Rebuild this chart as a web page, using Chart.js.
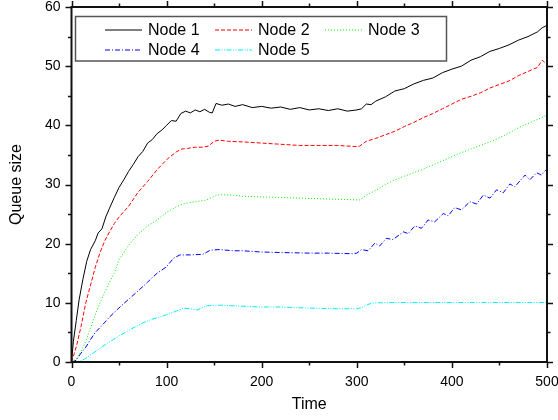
<!DOCTYPE html>
<html>
<head>
<meta charset="utf-8">
<script src="https://cdn.jsdelivr.net/npm/chart.js@4.4.2/dist/chart.umd.min.js"></script>
<style>
  html, body { margin: 0; padding: 0; background: #fff; }
  #wrap { width: 558px; height: 420px; }
</style>
</head>
<body>
<div id="wrap"><canvas id="chart" width="558" height="420"></canvas></div>
<script>
const labels = ['Node 1', 'Node 2', 'Node 3', 'Node 4', 'Node 5'];

const node1T = [0, 2, 5, 8, 12, 16, 20, 25, 28, 32, 36, 40, 45, 50, 55, 60, 65, 70, 75, 80, 85, 90, 95, 100, 105, 110, 115, 120, 125, 130, 135, 140, 145, 148, 152, 158, 165, 172, 180, 190, 200, 210, 220, 230, 240, 250, 260, 270, 280, 290, 300, 305, 310, 315, 320, 330, 340, 350, 360, 370, 380, 390, 400, 410, 420, 430, 440, 450, 460, 470, 480, 490, 495, 500];
const node1Q = [0, 3.5, 7, 10.5, 14, 17, 19, 20.5, 21.8, 22.5, 24.5, 26, 27.8, 29.5, 30.8, 32.2, 33.4, 34.7, 35.6, 37, 37.6, 38.6, 39.2, 40, 40.8, 40.7, 42, 42.4, 42.1, 42.6, 42.3, 42.7, 42.2, 42.1, 43.7, 43.4, 43.6, 43.2, 43.5, 43.0, 43.2, 42.9, 43.1, 42.7, 43.0, 42.6, 42.8, 42.5, 42.8, 42.4, 42.6, 42.8, 43.6, 43.5, 44.1, 44.8, 45.8, 46.2, 47.0, 47.6, 48.0, 48.9, 49.5, 50.0, 51.0, 51.6, 52.5, 53.0, 53.6, 54.4, 55.0, 55.8, 56.5, 56.9];

const node2T = [0, 3, 6, 10, 15, 20, 25, 30, 35, 40, 45, 50, 60, 70, 80, 90, 100, 110, 116, 122, 130, 138, 144, 150, 155, 165, 180, 200, 220, 240, 260, 280, 300, 303, 310, 320, 330, 340, 350, 360, 370, 380, 390, 400, 410, 420, 430, 440, 450, 460, 470, 480, 490, 495, 500];
const node2Q = [0, 1.5, 3.2, 6, 10, 13, 16, 18.5, 20.5, 22, 23.4, 24.5, 26.3, 28.7, 30.5, 32.5, 34.2, 35.5, 36.0, 36.1, 36.3, 36.3, 36.5, 37.3, 37.5, 37.3, 37.2, 37.0, 36.8, 36.6, 36.6, 36.6, 36.4, 36.5, 37.3, 37.8, 38.4, 39.0, 39.8, 40.5, 41.3, 42.0, 42.8, 43.6, 44.4, 44.9, 45.5, 46.3, 46.9, 47.5, 48.4, 49.1, 49.8, 51.0, 50.3];

const node3T = [0, 5, 10, 15, 20, 25, 30, 35, 40, 45, 50, 60, 70, 80, 90, 100, 110, 115, 120, 130, 140, 145, 150, 156, 170, 180, 200, 220, 240, 260, 280, 300, 303, 310, 320, 330, 340, 350, 360, 370, 380, 390, 400, 410, 420, 430, 440, 450, 460, 470, 480, 490, 500];
const node3Q = [0, 0.5, 1.8, 3.5, 5.8, 8, 10, 11.8, 13.5, 15, 17.3, 19.7, 21.6, 23.0, 24.0, 25.3, 26.2, 26.6, 26.8, 27.1, 27.3, 27.6, 28.0, 28.3, 28.2, 28.0, 27.9, 27.8, 27.7, 27.6, 27.5, 27.4, 27.4, 28.2, 29.0, 30.0, 30.8, 31.4, 32.0, 32.6, 33.3, 34.0, 34.7, 35.4, 36.0, 36.6, 37.2, 37.9, 38.7, 39.6, 40.3, 41.0, 41.7];

const node4T = [0, 5, 10, 15, 20, 25, 31, 40, 49, 60, 70, 80, 90, 100, 107, 114, 125, 138, 146, 156, 170, 180, 198, 220, 251, 270, 296, 300, 305, 312, 319, 324, 331, 338, 349, 354, 361, 368, 375, 382, 391, 396, 403, 410, 419, 426, 433, 440, 447, 454, 461, 466, 477, 482, 489, 494, 500];
const node4Q = [0, 0.3, 1.5, 2.5, 3.8, 5, 6.0, 7.6, 9.0, 10.6, 12.0, 13.5, 15.0, 16.1, 17.5, 18.1, 18.1, 18.2, 18.9, 19.0, 18.8, 18.8, 18.6, 18.5, 18.4, 18.4, 18.3, 18.4, 19.0, 18.8, 20.1, 19.6, 20.9, 20.7, 22.0, 21.7, 23.0, 22.6, 24.0, 23.7, 25.1, 24.7, 26.1, 25.7, 27.1, 26.7, 28.2, 27.7, 29.1, 28.6, 30.1, 29.6, 31.6, 30.8, 32.0, 31.6, 32.6];

const node5T = [0, 5, 10, 15, 20, 30, 38, 50, 63, 75, 84, 93, 100, 110, 118, 125, 132, 142, 156, 170, 198, 220, 251, 280, 300, 305, 310, 315, 321, 340, 400, 500];
const node5Q = [0, 0, 0.2, 0.6, 1.2, 2.3, 3.2, 4.4, 5.6, 6.6, 7.2, 7.6, 8.0, 8.6, 9.1, 9.0, 8.8, 9.5, 9.6, 9.5, 9.3, 9.3, 9.1, 9.0, 9.0, 9.2, 9.6, 9.9, 10.0, 10.05, 10.05, 10.05];

const xTickStep = 50;
const yTickStep = 5;

const FONT = 'Arial, "Liberation Sans", sans-serif';

const pts = (t, q) => t.map((v, i) => ({ x: v, y: q[i] }));

const styles = [
  { color: '#000000', dash: [] },
  { color: '#ff0000', dash: [4, 2] },
  { color: '#00f000', dash: [1, 2] },
  { color: '#0000ff', dash: [5, 2, 1, 2] },
  { color: '#00f0f0', dash: [5, 1.5, 1, 1.5, 1, 1.5] }
];

const series = [pts(node1T, node1Q), pts(node2T, node2Q), pts(node3T, node3Q), pts(node4T, node4Q), pts(node5T, node5Q)];

const frame = {
  id: 'frame',
  afterDatasetsDraw(chart) {
    const { ctx, chartArea: a, scales: { x, y } } = chart;
    ctx.save();
    ctx.strokeStyle = '#111';
    ctx.lineWidth = 2;
    ctx.strokeRect(a.left, a.top, a.right - a.left, a.bottom - a.top);
    ctx.lineWidth = 1.5;
    ctx.beginPath();
    x.ticks.forEach(tk => {
      const px = Math.round(x.getPixelForValue(tk.value)) + 0.5;
      const len = tk.value % 100 === 0 ? 6 : 3.5;
      ctx.moveTo(px, a.bottom); ctx.lineTo(px, a.bottom + len);
      ctx.moveTo(px, a.top); ctx.lineTo(px, a.top - len);
    });
    y.ticks.forEach(tk => {
      const py = Math.round(y.getPixelForValue(tk.value)) + 0.5;
      const len = tk.value % 10 === 0 ? 6 : 3.5;
      ctx.moveTo(a.left, py); ctx.lineTo(a.left - len, py);
      ctx.moveTo(a.right, py); ctx.lineTo(a.right + len, py);
    });
    ctx.stroke();
    ctx.restore();
  }
};

const boxLegend = {
  id: 'boxLegend',
  afterDraw(chart) {
    const { ctx } = chart;
    const box = { left: 75.5, top: 16.5, width: 371, height: 44.5 };
    const cols = [105, 215, 325];
    const rows = [29.5, 49.5];
    ctx.save();
    ctx.fillStyle = '#fff';
    ctx.fillRect(box.left, box.top, box.width, box.height);
    ctx.strokeStyle = '#555';
    ctx.lineWidth = 1.5;
    ctx.strokeRect(box.left, box.top, box.width, box.height);
    ctx.font = '16px ' + FONT;
    ctx.textBaseline = 'middle';
    chart.data.datasets.forEach((ds, i) => {
      const cx = cols[i % 3];
      const cy = rows[Math.floor(i / 3)];
      ctx.strokeStyle = ds.borderColor;
      ctx.lineWidth = 1;
      ctx.setLineDash(ds.borderDash);
      ctx.beginPath();
      ctx.moveTo(cx, cy + 0.5);
      ctx.lineTo(cx + 37, cy + 0.5);
      ctx.stroke();
      ctx.setLineDash([]);
      ctx.fillStyle = '#000';
      ctx.fillText(ds.label, cx + 43, cy + 1);
    });
    ctx.restore();
  }
};

new Chart(document.getElementById('chart'), {
  type: 'line',
  data: {
    datasets: series.map((d, i) => ({
      label: labels[i],
      data: d,
      borderColor: styles[i].color,
      borderDash: styles[i].dash,
      borderWidth: 1,
      pointRadius: 0,
      tension: 0,
      fill: false
    }))
  },
  options: {
    responsive: false,
    animation: false,
    layout: { padding: { top: 7, right: 11, left: 0, bottom: 0 } },
    scales: {
      x: {
        type: 'linear',
        min: 0,
        max: 500,
        afterFit: s => { s.height = 58; s.paddingLeft = 0; s.paddingRight = 0; },
        grid: { display: false, drawTicks: false },
        border: { display: false },
        ticks: {
          stepSize: xTickStep,
          autoSkip: false,
          maxRotation: 0,
          padding: 12,
          color: '#000',
          font: { family: FONT, size: 14 },
          callback: v => (v % 100 === 0 ? v : '')
        },
        title: {
          display: true,
          text: 'Time',
          color: '#000',
          font: { family: FONT, size: 16 },
          padding: { top: 0, bottom: 6 }
        }
      },
      y: {
        min: 0,
        max: 60,
        afterFit: s => { s.width = 71.5; s.paddingTop = 0; s.paddingBottom = 0; },
        grid: { display: false, drawTicks: false },
        border: { display: false },
        ticks: {
          stepSize: yTickStep,
          autoSkip: false,
          padding: 11,
          color: '#000',
          font: { family: FONT, size: 14 },
          callback: v => (v % 10 === 0 ? v : '')
        },
        title: {
          display: true,
          text: 'Queue size',
          color: '#000',
          font: { family: FONT, size: 16 },
          padding: { top: 7, bottom: 0 }
        }
      }
    },
    plugins: {
      legend: { display: false },
      tooltip: { enabled: false }
    }
  },
  plugins: [frame, boxLegend]
});
</script>
</body>
</html>
